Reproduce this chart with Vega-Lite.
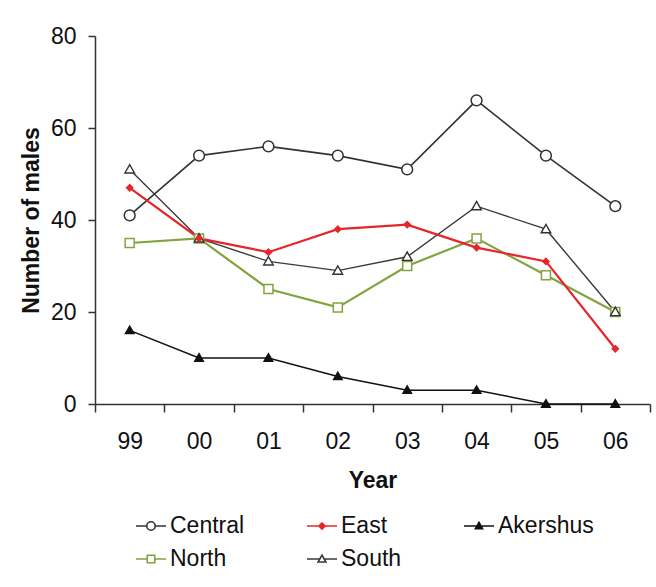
{
  "$schema": "https://vega.github.io/schema/vega-lite/v6.json",
  "width": 555,
  "height": 368,
  "autosize": "none",
  "padding": {"left": 95, "top": 36, "right": 6, "bottom": 183},
  "background": "white",
  "config": {
    "font": "Liberation Sans",
    "view": {"stroke": null},
    "axis": {
      "grid": false,
      "domainColor": "#333333",
      "domainWidth": 1.5,
      "tickColor": "#333333",
      "tickWidth": 1.5,
      "labelColor": "#111111",
      "titleColor": "#111111",
      "labelFont": "Liberation Sans",
      "titleFont": "Liberation Sans",
      "labelFontSize": 23,
      "titleFontSize": 23,
      "titleFontWeight": "bold"
    },
    "legend": {
      "orient": "none",
      "legendX": 40,
      "legendY": 474,
      "direction": "horizontal",
      "columns": 3,
      "columnPadding": 58,
      "rowPadding": 5,
      "padding": 0,
      "labelOffset": 3,
      "symbolSize": 900,
      "symbolStrokeWidth": 1.6,
      "labelFont": "Liberation Sans",
      "labelFontSize": 23,
      "labelColor": "#111111"
    }
  },
  "data": {
    "values": [
      {"series": "Central", "year": "99", "males": 41},
      {"series": "Central", "year": "00", "males": 54},
      {"series": "Central", "year": "01", "males": 56},
      {"series": "Central", "year": "02", "males": 54},
      {"series": "Central", "year": "03", "males": 51},
      {"series": "Central", "year": "04", "males": 66},
      {"series": "Central", "year": "05", "males": 54},
      {"series": "Central", "year": "06", "males": 43},
      {"series": "North", "year": "99", "males": 35},
      {"series": "North", "year": "00", "males": 36},
      {"series": "North", "year": "01", "males": 25},
      {"series": "North", "year": "02", "males": 21},
      {"series": "North", "year": "03", "males": 30},
      {"series": "North", "year": "04", "males": 36},
      {"series": "North", "year": "05", "males": 28},
      {"series": "North", "year": "06", "males": 20},
      {"series": "South", "year": "99", "males": 51},
      {"series": "South", "year": "00", "males": 36},
      {"series": "South", "year": "01", "males": 31},
      {"series": "South", "year": "02", "males": 29},
      {"series": "South", "year": "03", "males": 32},
      {"series": "South", "year": "04", "males": 43},
      {"series": "South", "year": "05", "males": 38},
      {"series": "South", "year": "06", "males": 20},
      {"series": "East", "year": "99", "males": 47},
      {"series": "East", "year": "00", "males": 36},
      {"series": "East", "year": "01", "males": 33},
      {"series": "East", "year": "02", "males": 38},
      {"series": "East", "year": "03", "males": 39},
      {"series": "East", "year": "04", "males": 34},
      {"series": "East", "year": "05", "males": 31},
      {"series": "East", "year": "06", "males": 12},
      {"series": "Akershus", "year": "99", "males": 16},
      {"series": "Akershus", "year": "00", "males": 10},
      {"series": "Akershus", "year": "01", "males": 10},
      {"series": "Akershus", "year": "02", "males": 6},
      {"series": "Akershus", "year": "03", "males": 3},
      {"series": "Akershus", "year": "04", "males": 3},
      {"series": "Akershus", "year": "05", "males": 0},
      {"series": "Akershus", "year": "06", "males": 0}
    ]
  },
  "encoding": {
    "x": {
      "field": "year",
      "type": "ordinal",
      "sort": ["99", "00", "01", "02", "03", "04", "05", "06"],
      "bandPosition": 0.5,
      "scale": {"type": "band", "paddingInner": 0, "paddingOuter": 0},
      "axis": {
        "title": "Year",
        "labelAngle": 0,
        "tickBand": "extent",
        "tickSize": 8,
        "labelPadding": 18,
        "titlePadding": 16
      }
    },
    "y": {
      "field": "males",
      "type": "quantitative",
      "scale": {"domain": [0, 80], "nice": false},
      "axis": {
        "title": "Number of males",
        "values": [0, 20, 40, 60, 80],
        "tickSize": 7,
        "labelPadding": 12,
        "titlePadding": 7
      }
    }
  },
  "layer": [
    {
      "mark": {"type": "line", "interpolate": "linear"},
      "encoding": {
        "stroke": {
          "field": "series",
          "type": "nominal",
          "title": null,
          "scale": {
            "domain": ["Central", "East", "Akershus", "North", "South"],
            "range": ["#333333", "#e8242b", "#111111", "#84a33f", "#3a3a3a"]
          }
        },
        "strokeWidth": {
          "field": "series",
          "type": "nominal",
          "scale": {
            "type": "ordinal",
            "domain": ["South", "North", "East", "Central", "Akershus"],
            "range": [1.4, 2.2, 2.2, 1.6, 1.5]
          },
          "legend": null
        }
      }
    },
    {
      "transform": [{"filter": "datum.series === 'Central'"}],
      "mark": {"type": "point", "shape": "M-0.9,0A0.9,0.9,0,1,0,0.9,0A0.9,0.9,0,1,0,-0.9,0Z", "size": 144, "filled": true, "fill": "white", "stroke": "#333333", "strokeWidth": 1.5, "opacity": 1}
    },
    {
      "transform": [{"filter": "datum.series === 'North'"}],
      "mark": {"type": "point", "shape": "M-0.75,-0.75H0.75V0.75H-0.75Z", "size": 144, "filled": true, "fill": "white", "stroke": "#84a33f", "strokeWidth": 1.5, "opacity": 1}
    },
    {
      "transform": [{"filter": "datum.series === 'South'"}],
      "mark": {"type": "point", "shape": "M-0.8,0.6L0,-0.8L0.8,0.6Z", "size": 144, "filled": true, "fill": "white", "stroke": "#333333", "strokeWidth": 1.4, "opacity": 1}
    },
    {
      "transform": [{"filter": "datum.series === 'East'"}],
      "mark": {"type": "point", "shape": "M0,-0.55L0.55,0L0,0.55L-0.55,0Z", "size": 144, "filled": true, "fill": "#e8242b", "stroke": "#e8242b", "strokeWidth": 1.2, "opacity": 1}
    },
    {
      "transform": [{"filter": "datum.series === 'Akershus'"}],
      "mark": {"type": "point", "shape": "M-0.75,0.55L0,-0.75L0.75,0.55Z", "size": 144, "filled": true, "fill": "#111111", "stroke": "#111111", "strokeWidth": 1.2, "opacity": 1}
    },
    {
      "transform": [{"filter": "false"}],
      "mark": {"type": "point", "filled": true, "strokeWidth": 1.6, "opacity": 1},
      "encoding": {
        "stroke": {"field": "series", "type": "nominal", "title": null},
        "fill": {
          "field": "series",
          "type": "nominal",
          "title": null,
          "scale": {
            "domain": ["Central", "East", "Akershus", "North", "South"],
            "range": ["white", "#e8242b", "#111111", "white", "white"]
          }
        },
        "shape": {
          "field": "series",
          "type": "nominal",
          "title": null,
          "scale": {
            "domain": ["Central", "East", "Akershus", "North", "South"],
            "range": [
              "M-1,0H-0.28M0.28,0H1M-0.28,0A0.28,0.28,0,1,0,0.28,0A0.28,0.28,0,1,0,-0.28,0Z",
              "M-1,0H1M0,-0.2L0.2,0L0,0.2L-0.2,0Z",
              "M-1,0H1M-0.24,0.18L0,-0.24L0.24,0.18Z",
              "M-1,0H-0.25M0.25,0H1M-0.25,-0.25H0.25V0.25H-0.25Z",
              "M-1,0H-0.15M0.15,0H1M-0.26,0.2L0,-0.26L0.26,0.2Z"
            ]
          }
        }
      }
    }
  ]
}
